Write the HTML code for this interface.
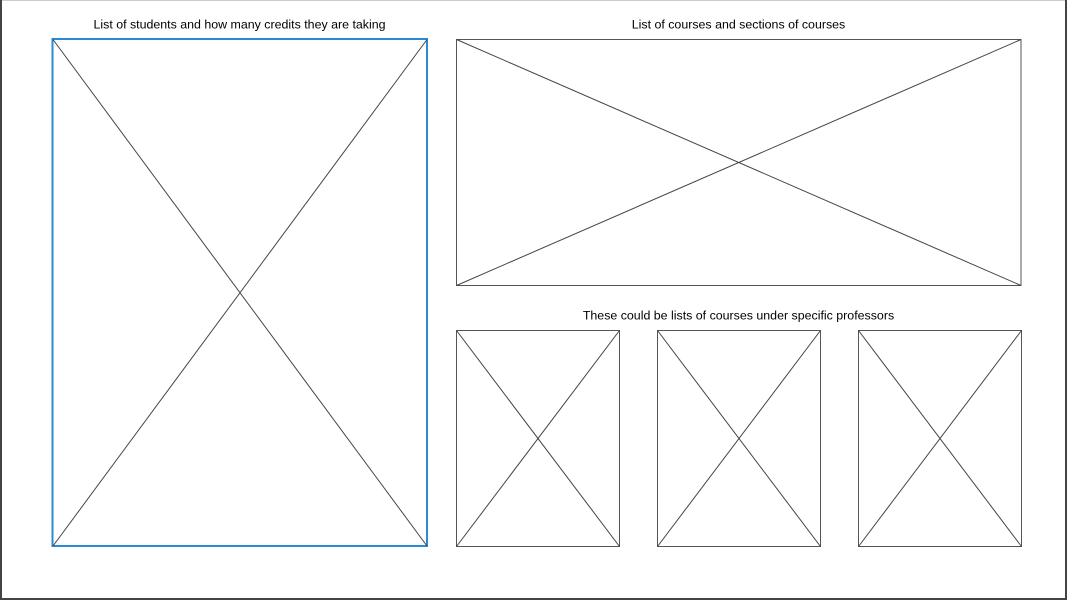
<!DOCTYPE html>
<html><head><meta charset="utf-8"><style>
html,body{margin:0;padding:0;background:#fff;}
svg{display:block;}
text{font-family:"Liberation Sans",Arial,sans-serif;font-size:12.4px;fill:#000;}
</style></head><body>
<svg width="1067" height="600" viewBox="0 0 1067 600">
<rect x="0" y="0" width="1067" height="600" fill="#fff"/>
<line x1="0" y1="0.5" x2="1067" y2="0.5" stroke="#ccc" stroke-width="1"/>
<line x1="1" y1="0" x2="1" y2="600" stroke="#444" stroke-width="2"/>
<line x1="1066" y1="0" x2="1066" y2="600" stroke="#444" stroke-width="2"/>
<line x1="0" y1="599" x2="1067" y2="599" stroke="#444" stroke-width="2"/>

<text x="239.5" y="28.5" text-anchor="middle">List of students and how many credits they are taking</text>
<g>
<rect x="52.5" y="39" width="374.5" height="507" fill="none" stroke="#2a8ad6" stroke-width="2"/>
<line x1="53" y1="39.5" x2="427" y2="546" stroke="#444"/>
<line x1="427" y1="39.5" x2="53" y2="546" stroke="#444"/>
</g>

<text x="738.5" y="28.5" text-anchor="middle">List of courses and sections of courses</text>
<g>
<rect x="456.5" y="39.5" width="564.5" height="246" fill="none" stroke="#555"/>
<line x1="456.5" y1="39.5" x2="1021" y2="285.5" stroke="#444"/>
<line x1="1021" y1="39.5" x2="456.5" y2="285.5" stroke="#444"/>
</g>

<text x="738.5" y="319.5" text-anchor="middle">These could be lists of courses under specific professors</text>
<g>
<rect x="456.5" y="330.5" width="163" height="216" fill="none" stroke="#555"/>
<line x1="456.5" y1="330.5" x2="619.5" y2="546.5" stroke="#444"/>
<line x1="619.5" y1="330.5" x2="456.5" y2="546.5" stroke="#444"/>
</g>
<g>
<rect x="657.5" y="330.5" width="163" height="216" fill="none" stroke="#555"/>
<line x1="657.5" y1="330.5" x2="820.5" y2="546.5" stroke="#444"/>
<line x1="820.5" y1="330.5" x2="657.5" y2="546.5" stroke="#444"/>
</g>
<g>
<rect x="858.5" y="330.5" width="163" height="216" fill="none" stroke="#555"/>
<line x1="858.5" y1="330.5" x2="1021.5" y2="546.5" stroke="#444"/>
<line x1="1021.5" y1="330.5" x2="858.5" y2="546.5" stroke="#444"/>
</g>
</svg>
</body></html>
